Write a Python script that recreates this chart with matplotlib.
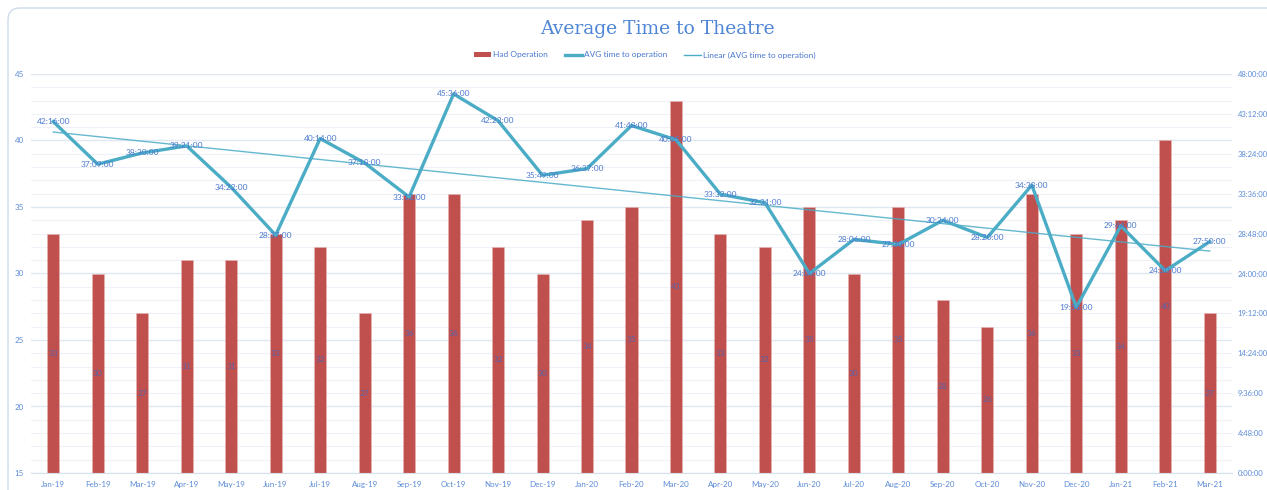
import numpy as np
import matplotlib.pyplot as plt
from matplotlib.lines import Line2D
from matplotlib.patches import Patch, FancyBboxPatch
from matplotlib.transforms import IdentityTransform

months = ['Jan-19', 'Feb-19', 'Mar-19', 'Apr-19', 'May-19', 'Jun-19', 'Jul-19', 'Aug-19',
          'Sep-19', 'Oct-19', 'Nov-19', 'Dec-19', 'Jan-20', 'Feb-20', 'Mar-20', 'Apr-20',
          'May-20', 'Jun-20', 'Jul-20', 'Aug-20', 'Sep-20', 'Oct-20', 'Nov-20', 'Dec-20',
          'Jan-21', 'Feb-21', 'Mar-21']
had_operation = [33, 30, 27, 31, 31, 33, 32, 27, 36, 36, 32, 30, 34, 35, 43, 33,
                 32, 35, 30, 35, 28, 26, 36, 33, 34, 40, 27]
avg_time = ['42:16:00', '37:09:00', '38:30:00', '39:21:00', '34:22:00', '28:37:00',
            '40:14:00', '37:18:00', '33:12:00', '45:36:00', '42:23:00', '35:49:00',
            '36:37:00', '41:48:00', '40:05:00', '33:32:00', '32:31:00', '24:00:00',
            '28:06:00', '27:30:00', '30:24:00', '28:20:00', '34:38:00', '19:56:00',
            '29:44:00', '24:20:00', '27:50:00']
right_ticks = ['0:00:00', '4:48:00', '9:36:00', '14:24:00', '19:12:00', '24:00:00',
               '28:48:00', '33:36:00', '38:24:00', '43:12:00', '48:00:00']

def to_hours(s):
    h, m, sec = s.split(':')
    return int(h) + int(m) / 60 + int(sec) / 3600

hours = np.array([to_hours(t) for t in avg_time])
tick_hours = [to_hours(t) for t in right_ticks]
x = np.arange(len(months))

red = '#c0504d'
teal = '#4bacc6'
lbl = '#5b8bd6'
plt.rcParams['font.family'] = ['Lato', 'DejaVu Sans']

fig = plt.figure(figsize=(12.67, 4.9), dpi=100)
# rounded chart frame, open at right and bottom like the cropped screenshot
fig.add_artist(FancyBboxPatch((8, -20), 1320, 502, boxstyle='round,pad=0,rounding_size=12',
                              transform=IdentityTransform(), facecolor='none',
                              edgecolor='#cfdbe9', linewidth=1.0, zorder=-1))

ax = fig.add_axes([31 / 1267, 1 - 473 / 490, 1201 / 1267, 399 / 490])
ax.set_facecolor('none')
bars = ax.bar(x, np.array(had_operation) - 15, bottom=15, width=0.27, color=red,
              edgecolor='#e8b4b2', linewidth=0.4, zorder=2)
ax.bar_label(bars, labels=[str(v) for v in had_operation], label_type='center',
             fontsize=6, color='#5a62a8')
ax.set_xlim(-0.5, len(months) - 0.5)
ax.set_ylim(15, 45)
ax.set_yticks(range(15, 46, 5))
ax.set_yticks(range(15, 46, 1), minor=True)
ax.grid(axis='y', which='major', color='#dfe7f2', linewidth=1.0, zorder=0)
ax.grid(axis='y', which='minor', color='#eef2f8', linewidth=0.8, zorder=0)
ax.set_axisbelow(True)
ax.set_xticks(x)
ax.set_xticklabels(months)
ax.tick_params(axis='both', which='both', length=0, labelsize=5.8, labelcolor=lbl)
ax.tick_params(axis='y', pad=5)
ax.tick_params(axis='x', pad=6)
for s in ['top', 'right', 'left']:
    ax.spines[s].set_visible(False)
ax.spines['bottom'].set_color('#d6e0ec')

ax2 = ax.twinx()
ax2.set_ylim(0, 48)
ax2.set_yticks(tick_hours)
ax2.set_yticklabels(right_ticks)
ax2.tick_params(axis='y', length=0, labelsize=5.5, labelcolor=lbl, pad=4)
for s in ax2.spines.values():
    s.set_visible(False)

coef = np.polyfit(x, hours, 1)
ax2.plot(x, np.polyval(coef, x), color=teal, linewidth=1.0, alpha=0.85, zorder=3)
ax2.plot(x, hours, color=teal, linewidth=2.4, zorder=4)
for xi, h, t in zip(x, hours, avg_time):
    ax2.text(xi, h, t, ha='center', va='center', fontsize=6, color='#4a78d0', zorder=5)

fig.text(657 / 1267, 1 - 29 / 490, 'Average Time to Theatre', ha='center', va='center',
         fontsize=13.5, family='DejaVu Serif', color='#4f86d6')

handles = [Patch(facecolor=red, edgecolor='none'),
           Line2D([], [], color=teal, linewidth=2.4),
           Line2D([], [], color=teal, linewidth=1.0)]
fig.legend(handles, ['Had Operation', 'AVG time to operation', 'Linear (AVG time to operation)'],
           loc='center', bbox_to_anchor=(645 / 1267, 1 - 55 / 490), ncol=3, frameon=False,
           fontsize=6, labelcolor='#4a78d0', handlelength=2.0, handleheight=0.5,
           columnspacing=2.0, handletextpad=0.3)

fig.savefig('out.png', dpi=100)
